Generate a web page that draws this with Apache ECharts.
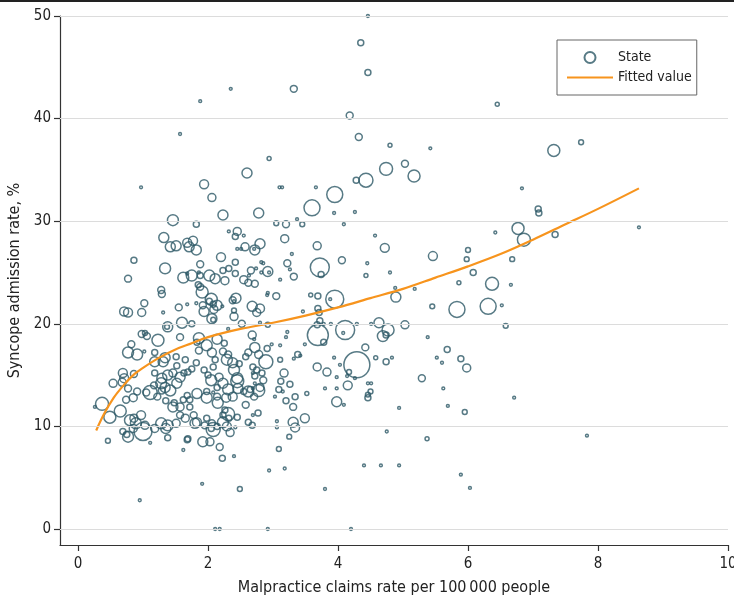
<!DOCTYPE html>
<html><head><meta charset="utf-8">
<script src="https://cdn.jsdelivr.net/npm/echarts@6/dist/echarts.min.js"></script>
<style>html,body{margin:0;padding:0;background:#fff}#c{width:734px;height:597px}</style>
</head><body><div id="c"></div>
<script>
// [malpractice claims rate, syncope admission rate %, population weight]
const states = [
[4.46,50.0,2],[4.35,47.4,9],[3.32,42.9,12],[4.46,44.5,9],[1.88,41.7,2],[2.35,42.9,2],[6.45,41.4,4],[4.18,40.3,12],[4.32,38.2,12],[1.57,38.5,2],[4.80,37.4,4],[5.42,37.1,2],[7.74,37.7,6],[7.32,36.9,36],[2.94,36.1,4],[2.60,34.7,25],[1.94,33.6,20],[2.06,32.3,16],[2.23,30.6,25],[2.78,30.8,25],[3.10,33.3,2],[3.14,33.3,2],[3.66,33.3,2],[3.60,31.3,64],[3.95,32.6,64],[3.94,30.8,2],[4.26,30.9,2],[4.28,34.0,9],[4.43,34.0,49],[4.74,35.1,42],[5.03,35.6,12],[5.17,34.4,36],[3.45,29.7,6],[4.09,29.7,2],[4.57,28.6,2],[6.42,28.9,2],[3.68,27.6,16],[4.72,27.4,20],[6.00,27.2,6],[5.46,26.6,20],[3.72,25.5,90],[3.74,24.8,9],[4.06,26.2,12],[4.45,25.9,2],[4.43,24.7,4],[4.80,25.0,2],[6.83,33.2,2],[7.08,31.2,9],[7.09,30.8,9],[6.77,29.3,36],[6.86,28.2,42],[7.34,28.7,9],[8.63,29.4,2],[5.98,26.3,6],[6.68,26.3,6],[6.08,25.0,9],[5.86,24.0,4],[6.37,23.9,42],[6.66,23.8,2],[5.83,21.4,64],[6.31,21.7,64],[6.52,21.8,2],[6.58,19.8,6],[5.68,17.5,9],[5.89,16.6,9],[5.98,15.7,16],[5.60,16.2,2],[5.62,13.7,2],[5.69,12.0,2],[5.95,11.4,6],[6.71,12.8,2],[7.83,9.1,2],[5.89,5.3,2],[6.03,4.0,2],
[3.58,22.8,4],[3.69,22.7,9],[3.95,22.4,81],[3.88,22.4,2],[4.89,22.6,25],[4.88,23.5,2],[5.18,23.4,2],[3.46,21.2,2],[3.69,21.5,9],[3.71,21.1,9],[5.45,21.7,6],[3.72,20.3,9],[3.68,19.9,9],[3.78,20.0,2],[3.89,20.0,2],[3.69,18.9,110],[3.78,18.2,9],[4.11,19.4,90],[4.08,19.1,2],[4.29,20.0,2],[4.51,20.0,2],[4.63,20.1,25],[4.77,19.4,36],[4.69,18.8,30],[4.74,18.9,9],[5.03,19.9,16],[5.38,18.7,2],[3.49,18.0,2],[3.42,16.9,2],[4.29,16.0,169],[4.42,17.7,12],[4.58,16.7,4],[4.74,16.3,9],[4.83,16.7,2],[3.94,16.7,2],[3.68,15.8,16],[3.83,15.3,16],[4.03,16.0,2],[3.98,14.8,2],[4.17,15.3,6],[4.14,14.9,2],[4.26,14.7,2],[4.15,14.0,20],[4.46,14.2,2],[4.51,14.2,2],[4.50,13.4,6],[4.46,13.1,6],[4.46,12.8,9],[3.80,13.7,2],[3.98,13.7,2],[3.52,13.2,4],[3.98,12.4,25],[4.09,12.1,2],[3.49,10.8,20],[5.29,14.7,12],[5.52,16.7,2],[4.94,11.8,2],[4.75,9.5,2],[5.37,8.8,4],[4.40,6.2,2],[4.66,6.2,2],[4.94,6.2,2],
[3.05,22.7,12],[2.92,23.0,2],[3.11,17.9,2],[2.98,18.0,2],[2.91,17.6,9],[3.22,19.2,2],[3.20,18.7,2],[2.80,20.1,2],[2.92,19.9,6],[2.52,20.0,12],[2.31,19.5,2],[3.38,17.0,9],[3.32,16.6,2],[3.11,16.5,6],[3.17,15.2,16],[3.12,14.4,9],[3.26,14.1,9],[3.09,13.6,9],[3.15,13.4,2],[3.34,12.9,9],[3.03,12.9,2],[3.31,11.9,12],[3.20,12.5,9],[3.31,10.4,25],[3.34,9.9,20],[3.06,10.5,2],[3.06,9.9,2],[3.25,9.0,6],[3.09,7.8,6],[2.18,8.0,12],[2.03,8.5,16],[1.92,8.5,25],[1.69,8.8,9],[2.40,7.1,2],[2.22,6.9,9],[1.62,7.7,2],[1.91,23.1,36],[2.05,22.4,36],[1.94,21.2,25],[2.06,20.5,25],[1.68,21.9,2],[1.82,22.0,2],[2.08,21.9,9],[2.22,21.7,2],[2.38,22.3,12],[2.40,21.3,6],[2.68,21.7,25],[2.80,21.5,20],[2.75,21.1,16],[2.78,17.0,16],[2.89,16.3,49],[2.75,15.5,9],[2.83,15.2,9],[2.80,13.8,16],
[2.32,29.0,2],[2.45,29.0,16],[2.42,28.5,9],[2.55,28.6,2],[2.80,27.8,25],[2.72,27.2,25],[2.57,27.5,16],[2.45,27.3,2],[2.51,27.3,2],[2.20,26.5,20],[2.42,26.0,9],[2.82,26.0,2],[2.85,25.9,2],[3.05,29.8,6],[3.20,29.7,12],[3.37,30.2,2],[3.18,28.3,16],[3.29,26.8,2],[3.22,25.9,12],[3.26,25.3,2],[3.32,24.6,12],[3.11,24.3,2],[2.94,25.0,2],[2.92,25.1,25],[2.82,25.0,2],[2.74,25.4,2],[2.66,25.2,12],[2.63,24.7,2],[2.55,24.3,16],[2.62,24.0,12],[2.72,23.9,12],[2.91,22.8,2],
[0.97,33.3,2],[1.46,30.1,30],[1.82,29.7,9],[1.32,28.4,25],[1.42,27.5,25],[1.51,27.6,25],[1.68,27.9,20],[1.77,28.1,20],[1.71,27.5,25],[1.82,27.2,25],[0.86,26.2,9],[2.71,27.3,2],[1.88,25.8,12],[1.34,25.4,30],[0.77,24.4,12],[1.62,24.5,30],[1.75,24.7,30],[1.68,24.9,2],[1.86,25.0,2],[1.88,24.7,9],[2.02,24.7,30],[2.11,24.4,25],[2.23,25.2,9],[2.32,25.4,9],[2.26,24.2,16],[2.42,24.9,9],[1.85,23.8,9],[1.88,23.6,12],[1.28,23.3,12],[1.29,22.9,12],[2.43,22.5,25],
[1.02,22.0,12],[0.71,21.2,20],[0.77,21.1,20],[0.98,21.1,16],[1.31,21.1,2],[1.55,21.6,12],[1.92,21.8,12],[2.02,22.2,9],[2.14,21.8,25],[2.09,21.4,16],[2.40,22.2,2],[2.40,20.7,16],[2.08,20.4,6],[1.38,19.7,25],[1.37,19.7,6],[1.60,20.1,30],[1.75,20.0,9],[0.98,19.0,12],[1.06,18.8,12],[1.03,19.1,6],[1.23,18.4,36],[1.57,18.7,12],[1.86,18.6,30],[1.83,18.2,9],[2.14,18.5,25],[2.25,18.1,9],[2.68,18.9,16],[2.71,18.5,2],[2.72,17.7,25],[0.82,18.0,12],[0.77,17.2,30],[0.91,17.0,30],[1.02,17.3,2],[1.18,17.2,9],[1.34,16.7,25],[1.31,16.3,25],[1.51,16.8,9],[1.65,16.5,9],[1.18,16.3,25],[1.52,15.9,9],[1.86,17.4,12],[1.98,17.9,30],[2.06,17.2,20],[2.11,16.5,9],[2.23,17.3,12],[2.31,17.0,12],[2.08,15.8,9],[2.29,16.5,30],[2.38,16.2,25],[2.40,15.5,30],[2.45,14.7,30],[2.48,16.1,9],[2.58,16.8,9],[2.62,17.2,12],[2.69,15.8,9],[2.69,15.2,2],[2.72,14.9,9],[2.72,14.2,2],[2.69,13.7,2],[2.62,13.4,30],[2.71,12.9,12],[0.71,14.7,20],[0.68,14.3,16],[0.77,13.7,12],[0.54,14.2,16],[0.37,12.2,42],[0.26,11.9,2],[0.49,10.9,36],[0.65,11.5,36],[0.91,13.4,12],[1.05,13.3,12],[1.17,14.0,12],[1.29,14.7,25],[1.18,15.2,9],[1.38,15.0,25],[1.28,14.2,30],[1.34,13.8,25],[1.29,13.5,12],[1.42,13.5,30],[1.52,14.2,25],[1.57,14.8,25],[1.46,15.2,16],[1.63,15.2,9],[1.69,15.3,9],[1.75,15.6,9],[1.82,16.2,9],[1.94,15.5,9],[2.00,15.0,9],[2.05,14.5,30],[2.17,14.8,16],[2.23,14.2,25],[2.14,13.8,9],[2.31,13.6,30],[2.46,13.7,25],[2.55,13.4,9],[2.38,12.9,20],[2.14,12.9,12],[2.08,13.3,2],[1.83,13.2,25],[1.98,13.4,9],[1.68,13.0,9],[1.62,12.6,9],[1.72,12.6,9],[1.57,11.9,16],[1.48,12.3,9],[1.35,12.5,9],[1.22,12.9,12],[1.11,13.3,49],[1.57,11.1,12],[1.78,11.1,12],[1.65,10.8,16],[1.83,10.4,20],[1.98,10.8,9],[1.95,10.1,12],[2.06,10.3,12],[2.08,9.7,49],[2.14,10.0,9],[2.23,10.4,30],[2.23,11.1,9],[2.32,10.8,9],[2.45,10.9,9],[2.29,10.0,20],[2.42,9.9,2],[2.34,9.4,16],[2.58,12.1,12],[2.62,10.4,9],[2.68,10.1,9],[2.69,11.1,2],[0.80,10.6,30],[0.89,10.3,30],[0.86,10.8,16],[0.97,11.1,20],[1.03,10.1,16],[1.18,9.8,16],[0.85,9.8,16],[0.69,9.5,9],[0.75,9.2,9],[0.77,9.0,30],[1.00,9.5,81],[0.46,8.6,6],[1.11,8.4,2],[1.38,8.9,9],[1.68,8.7,9],
[0.74,12.6,12],[0.85,12.8,16],[0.69,15.2,20],[0.86,15.1,12],[1.46,11.9,25],[1.72,11.9,9],[1.98,12.8,30],[2.15,12.3,30],[2.28,12.8,20],[2.26,11.6,9],[2.45,14.4,42],[2.65,13.6,9],[2.78,13.5,36],[2.85,14.5,12],[2.77,11.3,9],[2.31,11.2,42],[2.05,9.8,9],[1.80,10.3,25],[1.51,10.3,16],[1.38,10.1,30],[1.35,9.8,25],[1.28,10.3,30],
[0.95,2.8,2],[2.11,0,2],[2.18,0,2],[2.92,0,2],[4.20,0,2],[2.49,3.9,6],[1.91,4.4,2],[2.94,5.7,2],[3.18,5.9,2],[3.80,3.9,2]
];
const fitX = [0.28,0.4,0.55,0.7,0.85,1.0,1.25,1.5,1.75,2.0,2.5,3.0,3.5,4.0,4.5,5.0,5.5,6.0,6.5,7.0,7.5,8.0,8.63];
const fitY = [9.6,11.2,12.8,14.0,15.0,15.7,16.7,17.5,18.1,18.7,19.5,20.1,20.8,21.6,22.5,23.4,24.5,25.6,26.8,28.2,29.7,31.2,33.2];
const xTicks = [0,2,4,6,8,10];
const yTicks = [0,10,20,30,40,50];

const FONT = "'Liberation Sans Narrow','DejaVu Sans Condensed',sans-serif";
const DOT = '#2d5967';
const ORANGE = '#f7941d';
const chart = echarts.init(document.getElementById('c'), null, {renderer:'canvas'});
chart.setOption({
  animation:false,
  backgroundColor:'#fff',
  textStyle:{fontFamily:FONT},
  graphic:[{type:'rect', shape:{x:0,y:0,width:734,height:2}, style:{fill:'#222'}}],
  grid:{left:60,right:6,top:16,bottom:52, containLabel:false, outerBoundsMode:'none'},
  legend:{
    orient:'vertical', left:557, top:40,
    padding:[9,5,9,10], itemGap:3, itemWidth:46, itemHeight:11,
    borderColor:'#666', borderWidth:1, backgroundColor:'#fff',
    textStyle:{fontSize:14, color:'#222', fontFamily:FONT, lineHeight:17},
    data:[
      {name:'State', icon:'circle'},
      {name:'Fitted value', icon:'path://M0,0 L46,0 L46,2 L0,2 Z', itemStyle:{color:ORANGE, borderWidth:0}}
    ]
  },
  xAxis:{
    type:'value', min:-0.277, max:10,
    name:'Malpractice claims rate per 100\u2009000 people', nameLocation:'middle', nameGap:35,
    nameTextStyle:{fontSize:16, color:'#222', fontFamily:FONT},
    axisLine:{show:true, onZero:false, lineStyle:{color:'#333', width:1.2}},
    axisTick:{show:true, customValues:xTicks, length:6, lineStyle:{color:'#333', width:1.2}},
    axisLabel:{customValues:xTicks, fontSize:15, color:'#222', margin:12, fontFamily:FONT},
    splitLine:{show:false}
  },
  yAxis:{
    type:'value', min:-1.56, max:50,
    name:'Syncope admission rate, %', nameLocation:'middle', nameGap:34,
    nameTextStyle:{fontSize:16, color:'#222', fontFamily:FONT},
    axisLine:{show:true, onZero:false, lineStyle:{color:'#333', width:1.2}},
    axisTick:{show:true, customValues:yTicks, length:6, lineStyle:{color:'#333', width:1.2}},
    axisLabel:{customValues:yTicks, fontSize:15, color:'#222', margin:9, fontFamily:FONT},
    splitLine:{show:false}
  },
  series:[
    {type:'scatter', name:'grid', data:[], silent:true, z:1,
     markLine:{silent:true, symbol:['none','none'], label:{show:false},
       lineStyle:{color:'#dcdcdc', type:'solid', width:1},
       data: yTicks.map(v=>({yAxis:v}))}},
    {type:'scatter', name:'State', z:2,
     data: states,
     symbolSize: d => 2*Math.sqrt(d[2]),
     itemStyle:{color:'rgba(255,255,255,0)', borderColor:DOT, borderWidth:1.5},
     emphasis:{disabled:true}},
    {type:'line', name:'Fitted value', z:3, smooth:0.35, symbol:'none',
     data: fitX.map((x,i)=>[x, fitY[i]]),
     lineStyle:{color:ORANGE, width:2.2}, itemStyle:{color:ORANGE}}
  ]
});
</script></body></html>
